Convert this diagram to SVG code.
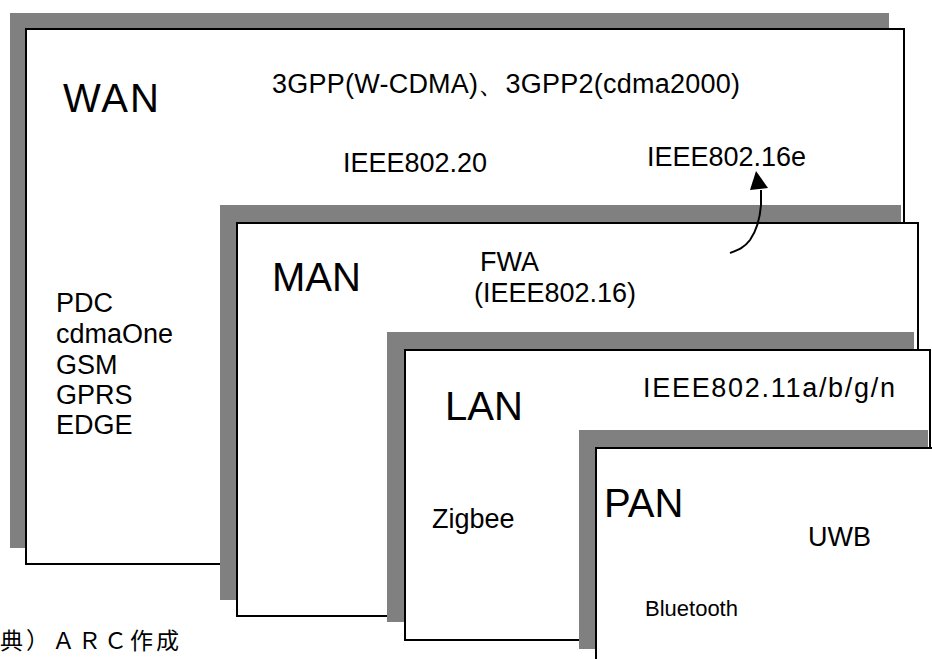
<svg xmlns="http://www.w3.org/2000/svg" width="932" height="659" viewBox="0 0 932 659">
<style>
.sh{fill:#808080;stroke:none}
.bx{fill:#fff;stroke:#000;stroke-width:2}
.big{font-family:"Liberation Sans",Arial,sans-serif;font-size:40px;fill:#000}
.t{font-family:"Liberation Sans",Arial,sans-serif;font-size:27px;fill:#000}
.s{font-family:"Liberation Sans",Arial,sans-serif;font-size:22px;fill:#000}
.cjk{font-family:"Liberation Sans","Noto Sans CJK JP",sans-serif;font-size:23px;letter-spacing:3px;fill:#000}
</style>
<rect width="932" height="659" fill="#fff"/>
<g id="wan">
<rect class="sh" x="10" y="13" width="879" height="535"/>
<rect class="bx" x="26" y="29" width="878" height="535"/>
<text class="big" x="63" y="112" textLength="96" lengthAdjust="spacing">WAN</text>
<text class="t" x="272" y="93" textLength="468" lengthAdjust="spacing">3GPP(W-CDMA)、3GPP2(cdma2000)</text>
<text class="t" x="343" y="172">IEEE802.20</text>
<text class="t" x="647" y="166">IEEE802.16e</text>
<text class="t" x="56" y="312">PDC</text>
<text class="t" x="56" y="343">cdmaOne</text>
<text class="t" x="56" y="374">GSM</text>
<text class="t" x="56" y="404">GPRS</text>
<text class="t" x="56" y="434">EDGE</text>
</g>
<g id="man">
<rect class="sh" x="220" y="205" width="681" height="395"/>
<rect class="bx" x="237" y="223" width="681" height="393"/>
<text class="big" x="272" y="291">MAN</text>
<text class="t" x="480" y="271">FWA</text>
<text class="t" x="474" y="302">(IEEE802.16)</text>
</g>
<g id="lan">
<rect class="sh" x="387" y="332" width="527" height="290"/>
<rect class="bx" x="405" y="350" width="525" height="290"/>
<text class="big" x="445" y="420">LAN</text>
<text class="t" x="643" y="397" textLength="252" lengthAdjust="spacing">IEEE802.11a/b/g/n</text>
<text class="t" x="432" y="528">Zigbee</text>
</g>
<g id="pan">
<rect class="sh" x="579" y="430" width="349" height="219"/>
<rect class="bx" x="596" y="448" width="400" height="300"/>
<text class="big" x="604" y="517">PAN</text>
<text class="t" x="808" y="546">UWB</text>
<text class="s" x="645" y="616">Bluetooth</text>
</g>
<g id="caption">
<text class="cjk" x="0" y="649">典）ＡＲＣ作成</text>
</g>
<g id="connectors">
<path d="M730,253 C738,250 744,248 750,240 C757,230 760,218 761,205 L761,190" fill="none" stroke="#000" stroke-width="2"/>
<polygon points="756,171 768,188 750,190" fill="#000"/>
</g>
</svg>
